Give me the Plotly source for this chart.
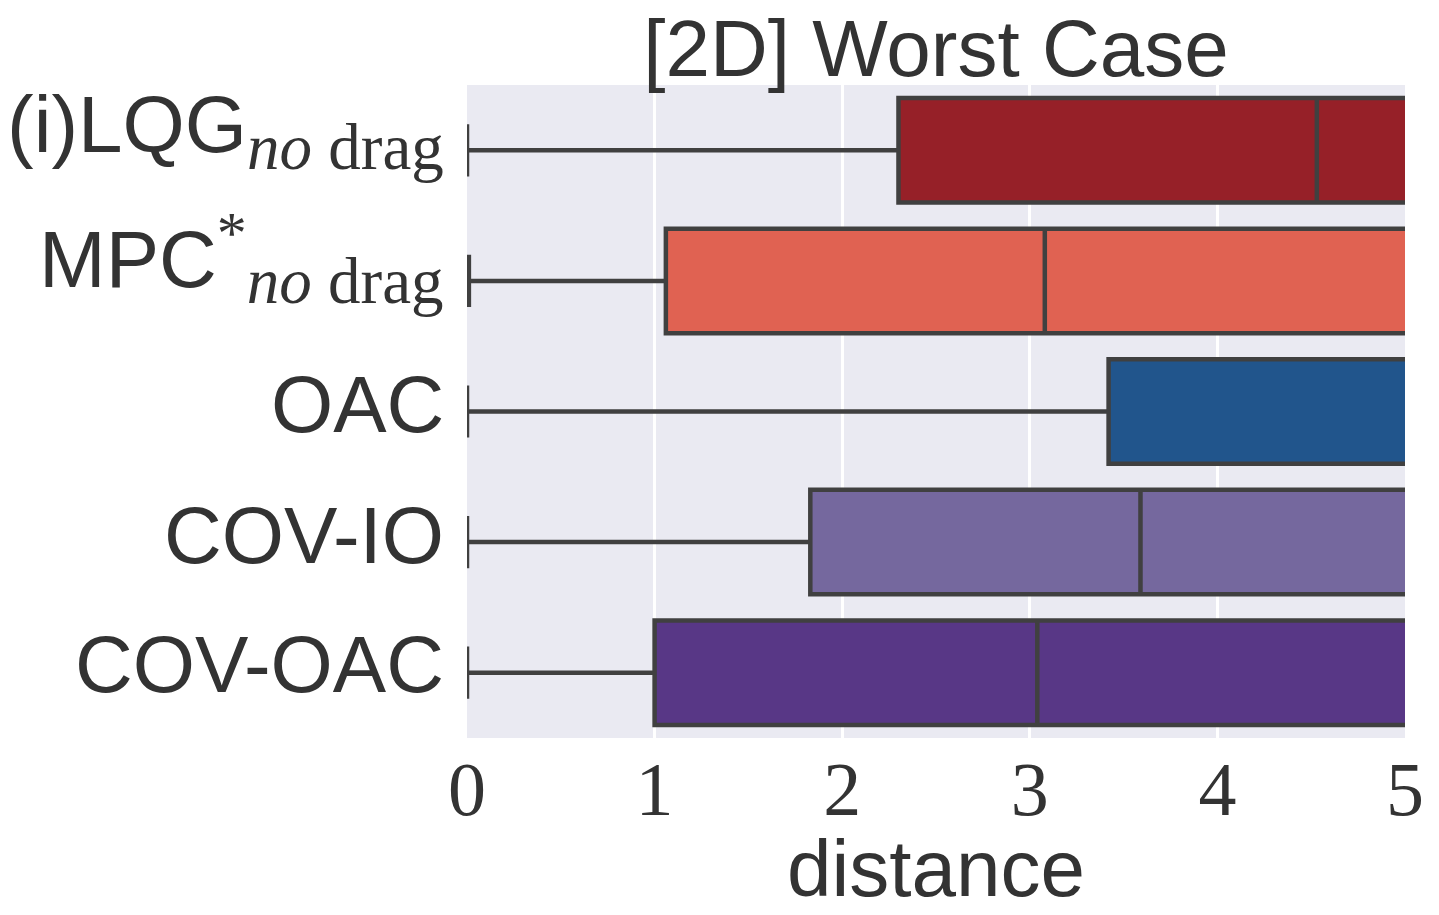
import plotly.graph_objects as go

# ---- data ----
categories = ["LQG", "MPC", "OAC", "COV-IO", "COV-OAC"]
SUB = "<sub><span style=\"font-family:'Liberation Serif';font-size:65px\"><i>no</i> drag</span></sub>"
tick_labels = [
    "(i)LQG" + SUB,
    "MPC<sup><span style=\"font-family:'Liberation Serif';font-size:60px\">*</span></sup>" + SUB,
    "OAC",
    "COV-IO",
    "COV-OAC",
]
lower_whisker = [0.0, 0.01, 0.0, 0.0, 0.0]
q1_values = [2.30, 1.06, 3.42, 1.83, 1.00]
median_values = [4.53, 3.08, 5.30, 3.59, 3.04]
q3_values = [5.60, 5.60, 5.70, 5.60, 5.60]
upper_whisker = [6.5, 6.5, 6.5, 6.5, 6.5]
colors = ["#962028", "#e06252", "#21558c", "#75689e", "#583786"]
x_ticks = [0, 1, 2, 3, 4, 5]

# vertical nudge of each category label (labels with subscripts are centred on their full box)
label_shift = [19, 22, 7, 7, 8]

fig = go.Figure()
for i, cat in enumerate(categories):
    fig.add_trace(go.Box(
        y=[cat],
        orientation="h",
        lowerfence=[lower_whisker[i]],
        q1=[q1_values[i]],
        median=[median_values[i]],
        q3=[q3_values[i]],
        upperfence=[upper_whisker[i]],
        fillcolor=colors[i],
        line=dict(color="#404040", width=4.5),
        whiskerwidth=0.5,
        width=0.8,
        boxpoints=False,
        showlegend=False,
        hoverinfo="skip",
    ))

# category labels (drawn as text at each category position, like matplotlib tick labels)
for cat, lab, sh in zip(categories, tick_labels, label_shift):
    fig.add_annotation(
        text=lab, x=0, xref="paper", xanchor="right", xshift=-21,
        y=cat, yref="y", yanchor="middle", yshift=sh,
        showarrow=False,
        font=dict(size=80, family="Liberation Sans, Arial, sans-serif", color="#333333"),
    )

# x-axis title
fig.add_annotation(
    text="distance", x=0.5, xref="paper", xanchor="center",
    y=0, yref="paper", yanchor="top", yshift=-84,
    showarrow=False,
    font=dict(size=80, family="Liberation Sans, Arial, sans-serif", color="#333333"),
)

fig.update_layout(
    width=1439, height=915,
    margin=dict(l=467, r=34, t=85, b=177),
    paper_bgcolor="white",
    plot_bgcolor="#eaeaf2",
    font=dict(family="Liberation Sans, Arial, sans-serif", color="#333333"),
    title=dict(
        text="[2D] Worst Case",
        x=0.5, xref="paper", xanchor="center",
        y=0.948, yref="container", yanchor="middle",
        font=dict(size=80, family="Liberation Sans, Arial, sans-serif", color="#333333"),
    ),
    xaxis=dict(
        range=[0, 5], automargin=False,
        tickmode="array", tickvals=x_ticks, ticktext=[str(t) for t in x_ticks],
        ticks="", showgrid=True, gridcolor="white", gridwidth=2.5,
        zeroline=False, showline=False,
        tickfont=dict(size=76, family="Liberation Serif, serif", color="#333333"),
    ),
    yaxis=dict(
        categoryorder="array", categoryarray=categories,
        range=[4.5, -0.5], automargin=False,
        showticklabels=False,
        ticks="", showgrid=False, zeroline=False, showline=False,
    ),
)

fig.write_html("out.html")
